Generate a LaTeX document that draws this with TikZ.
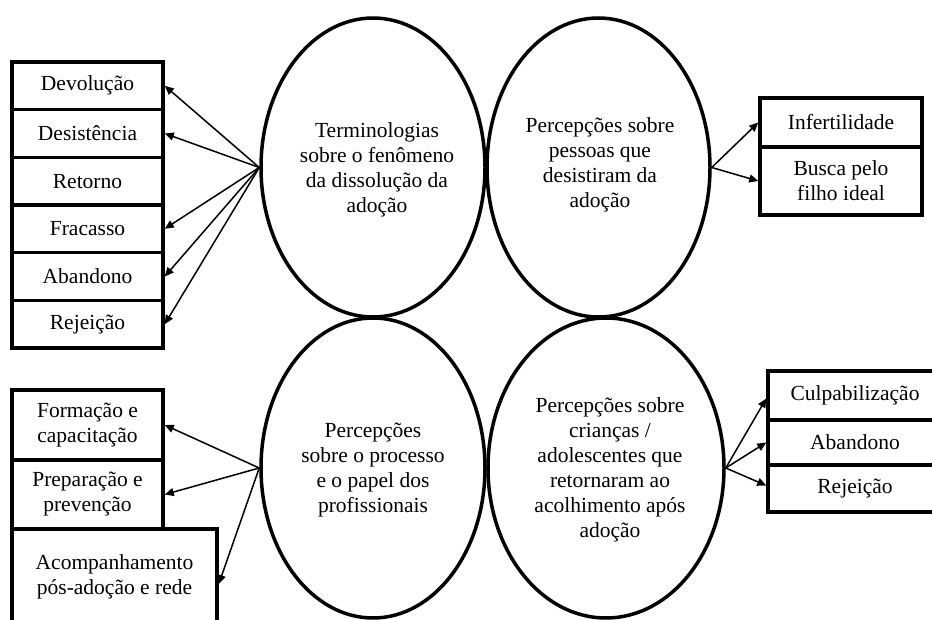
\documentclass[tikz,border=0pt]{standalone}
\usepackage{fontspec}
\setmainfont{Liberation Serif}
\usetikzlibrary{arrows.meta,shapes.geometric}
\tikzset{
  box/.style={draw, line width=3.5pt, fill=white, align=center, inner sep=0pt, font=\fontsize{21.5}{25}\selectfont},
  oval/.style={draw, ellipse, line width=3.5pt, inner sep=0pt},
  ovtext/.style={align=center, inner sep=0pt, font=\fontsize{21.5}{25}\selectfont},
  arr/.style={line width=1.5pt, -{Triangle[length=9pt,width=8pt]}}
}
\begin{document}
\begin{tikzpicture}[x=1pt,y=-1pt]
\useasboundingbox (0,0) rectangle (932,620);
\begin{scope}
\clip (0,0) rectangle (932,620);
% ellipses
\node[oval, minimum width=224, minimum height=299] (e1) at (373,167.5) {};
\node[oval, minimum width=223, minimum height=299] (e2) at (598.5,167.5) {};
\node[oval, minimum width=224, minimum height=300] (e3) at (373,468) {};
\node[oval, minimum width=236, minimum height=300] (e4) at (606,468) {};
\node[ovtext] (t1) at (377,170) {Terminologias\\sobre o fenômeno\\da dissolução da\\adoção};
\node[ovtext] (t2) at (600,165) {Percepções sobre\\pessoas que\\desistiram da\\adoção};
\node[ovtext] (t3) at (373,470) {Percepções\\sobre o processo\\e o papel dos\\profissionais};
\node[ovtext] (t4) at (610,470) {Percepções sobre\\crianças /\\adolescentes que\\retornaram ao\\acolhimento após\\adoção};
% top-left boxes
\node[box, minimum width=151, minimum height=47.7] (b1) at (87.5,85.8) {Devolução};
\node[box, minimum width=151, minimum height=47.7] (b2) at (87.5,133.5) {Desistência};
\node[box, minimum width=151, minimum height=47.7] (b3) at (87.5,181.2) {Retorno};
\node[box, minimum width=151, minimum height=47.7] (b4) at (87.5,228.8) {Fracasso};
\node[box, minimum width=151, minimum height=47.7] (b5) at (87.5,276.5) {Abandono};
\node[box, minimum width=151, minimum height=47.7] (b6) at (87.5,324.2) {Rejeição};
% top-right boxes
\node[box, minimum width=162, minimum height=49] (c1) at (841,122.5) {Infertilidade};
\node[box, minimum width=162, minimum height=68] (c2) at (841,181) {Busca pelo\\filho ideal};
% bottom-left boxes
\node[box, minimum width=151, minimum height=70] (d1) at (87.5,425) {Formação e\\capacitação};
\node[box, minimum width=151, minimum height=69] (d2) at (87.5,494.5) {Preparação e\\prevenção};
\node[box, minimum width=205, minimum height=96] (d3) at (114.5,577) {Acompanhamento\\pós-adoção e rede};
% bottom-right boxes
\node[box, minimum width=174, minimum height=49] (f1) at (855,395.5) {Culpabilização};
\node[box, minimum width=174, minimum height=45] (f2) at (855,442.5) {Abandono};
\node[box, minimum width=174, minimum height=47] (f3) at (855,488.5) {Rejeição};
% arrows
\foreach \b in {b1,b2,b4,b5,b6} \draw[arr] (e1.west) -- (\b.east);
\draw[arr] (e2.east) -- (c1.west);
\draw[arr] (e2.east) -- (c2.west);
\draw[arr] (e3.west) -- (d1.east);
\draw[arr] (e3.west) -- (d2.east);
\draw[arr] (e3.west) -- ([yshift=-7]d3.east);
\draw[arr] (e4.east) -- ([yshift=-3]f1.west);
\draw[arr] (e4.east) -- (f2.west);
\draw[arr] (e4.east) -- ([yshift=3]f3.west);
\end{scope}
\end{tikzpicture}
\end{document}
